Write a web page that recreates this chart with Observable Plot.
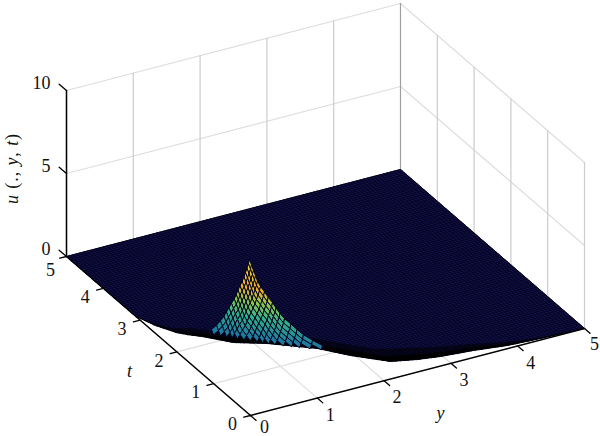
<!DOCTYPE html>
<html><head><meta charset="utf-8">
<style>html,body{margin:0;padding:0;background:#fff}svg{display:block}</style>
<script src="https://cdn.jsdelivr.net/npm/d3@7"></script>
<script src="https://cdn.jsdelivr.net/npm/@observablehq/plot@0.6"></script>
</head><body><div id="c"></div>
<script>
// Axis ticks
const yTicks=[0,1,2,3,4,5], tTicks=[0,1,2,3,4,5], zTicks=[0,5,10];
// Front edge of the dark sheet (y, t)
const edgeY=[0,.105,.252,.36,.49,.776,1.154,1.663,1.949,2.33,2.667,2.971,3.431,3.889,4.362,5];
const edgeT=[3.12,2.77,2.47,2.34,2.22,1.87,1.633,1.198,.82,.424,.302,.23,.167,.074,.035,0];
const bandT=[3.12,2.80,2.53,2.42,2.33,2.02,1.80,1.38,1.02,.60,.45,.35,.25,.12,.05,0];
const haloT=[3.12,2.85,2.62,2.55,2.48,2.20,2.00,1.60,1.24,.82,.66,.52,.36,.18,.07,0];
// Sheet mesh lines
const meshY=d3.range(0,5.0001,.05), meshT=d3.range(0,5.0001,.05);
// Peak: edges from the apex down to the base
const leftY=[.739,.725,.704,.684,.664,.639,.612,.586,.563,.537,.502,.470,.438,.407,.363,.314,.254];
const leftT=[1.369,1.370,1.374,1.378,1.382,1.388,1.396,1.403,1.409,1.416,1.428,1.438,1.449,1.459,1.476,1.495,1.521];
const rightY=[.739,.746,.752,.759,.766,.784,.814,.840,.873,.897,.927,.963,1.020,1.074,1.132,1.220,1.318];
const rightT=[1.369,1.327,1.285,1.242,1.200,1.152,1.097,1.044,.987,.936,.881,.823,.753,.685,.615,.528,.436];
const peakZ=[6,5.75,5.5,5.25,5,4.75,4.5,4.25,4,3.75,3.5,3.25,3,2.75,2.5,2.25,2];
const colorLevels=[1.2,2,3,3.8,4.5,5.1,6];
const colorStops=["#14205e","#1f7a9f","#2fb08c","#8cc84e","#eeae30","#f6c42c","#e8e840"];

// View of the 3D box on the page
const X=d=>250+66.8*d.y-36.8*d.t, Y=d=>415-17.4*d.y-31.8*d.t-16.6*(d.z||0);
const P=(y,t,z=0,id=0)=>({y,t,z,id});
const seg=(a,b,id)=>[a,b].map(q=>({y:q[0],t:q[1],z:q[2]||0,id}));

// Grid on floor and walls
const majorV=[],minorH=[];let gid=0;
for(const y of yTicks){majorV.push(...seg([y,5,0],[y,5,10],gid++));minorH.push(...seg([y,0,0],[y,5,0],gid++));}
for(const t of tTicks){majorV.push(...seg([5,t,0],[5,t,10],gid++));minorH.push(...seg([0,t,0],[5,t,0],gid++));}
for(const z of [5,10]){minorH.push(...seg([0,5,z],[5,5,z],gid++));minorH.push(...seg([5,5,z],[5,0,z],gid++));}

// Sheet
const frontT=d3.scaleLinear(edgeY,edgeT), frontY=d3.scaleLinear(edgeT.slice().reverse(),edgeY.slice().reverse()).clamp(true);
const sheet=[...edgeY.map((y,i)=>P(y,edgeT[i])),P(5,5),P(0,5),P(0,edgeT[0])];
const strip=arr=>[...edgeY.map((y,i)=>P(y,edgeT[i])),...edgeY.map((y,i)=>P(y,arr[i])).reverse()];
const mesh=[];let mid=0;
for(const y of meshY){mesh.push(P(y,frontT(y),0,mid),P(y,5,0,mid));mid++;}
for(const t of meshT){mesh.push(P(frontY(t),t,0,mid),P(5,t,0,mid));mid++;}

// Peak cells
const N=peakZ.length-1;
const node=(i,j)=>({y:leftY[i]+rightY[j]-leftY[0],t:leftT[i]+rightT[j]-leftT[0],z:peakZ[i]+peakZ[j]-peakZ[0]});
const cells=[];let cid=0;
for(let s=0;s<N;s++)for(let i=0;i<=s;i++){
  const j=s-i;
  const q=[node(i,j),node(i+1,j),node(i+1,j+1),node(i,j+1),node(i,j)];
  const v=d3.mean(q.slice(0,4),d=>d.z);
  q.forEach(d=>cells.push({...d,id:cid,v}));cid++;
}

// Axes and ticks
const axisLines=[...seg([0,5,0],[0,5,10],0),...seg([0,0,0],[0,5,0],1),...seg([0,0,0],[5,0,0],2)];
let aid=3;const tickLines=[];
for(const z of zTicks)tickLines.push(...seg([0,5,z],[0,5.2,z],aid++));
for(const t of tTicks)tickLines.push(...seg([0,t,0],[-.1,t,0],aid++));
for(const y of yTicks)tickLines.push(...seg([y,0,0],[y,-.15,0],aid++));

const font="'Liberation Serif',serif";
const txt={x:X,y:Y,fontSize:18,fontFamily:font,fill:"#111"};
const plot=Plot.plot({width:600,height:436,margin:0,
  x:{domain:[0,600],range:[0,600],axis:null},
  y:{domain:[0,436],range:[0,436],axis:null},
  color:{type:"linear",domain:colorLevels,range:colorStops},
  marks:[
   Plot.line(minorH,{x:X,y:Y,z:"id",stroke:"#dedede",strokeWidth:1.2}),
   Plot.line(majorV,{x:X,y:Y,z:"id",stroke:"#cccccc",strokeWidth:1.2}),
   Plot.line(seg([5,5,0],[5,5,10],0),{x:X,y:Y,stroke:"#a0a0a0",strokeWidth:1}),
   Plot.line(sheet,{x:X,y:Y,fill:"#14124e",stroke:"#05051f",strokeWidth:1}),
   Plot.line(mesh,{x:X,y:Y,z:"id",stroke:"#02021a",strokeWidth:.8}),
   Plot.line(strip(haloT),{x:X,y:Y,fill:"#000",fillOpacity:.55,stroke:"none"}),
   Plot.line(strip(bandT),{x:X,y:Y,fill:"#000",stroke:"none"}),
   Plot.line(cells,{x:X,y:Y,z:"id",fill:"v",stroke:"#02021a",strokeWidth:1}),
   Plot.line(axisLines,{x:X,y:Y,z:"id",stroke:"#000",strokeWidth:1.5}),
   Plot.line(tickLines,{x:X,y:Y,z:"id",stroke:"#000",strokeWidth:1.3}),
   Plot.text(zTicks.map(z=>P(0,5,z)),{...txt,text:d=>String(d.z),textAnchor:"end",dx:-16,dy:-7}),
   Plot.text(tTicks.filter(t=>t<5).map(t=>P(0,t)),{...txt,text:d=>String(d.t),dx:-18,dy:9}),
   Plot.text(tTicks.filter(t=>t==5).map(t=>P(0,t)),{...txt,text:d=>String(d.t),dx:-16,dy:14}),
   Plot.text(yTicks.filter(y=>y>0&&y<5).map(y=>P(y,0)),{...txt,text:d=>String(d.y),dx:13,dy:17}),
   Plot.text(yTicks.filter(y=>y==0).map(y=>P(y,0)),{...txt,text:d=>String(d.y),dx:14,dy:12}),
   Plot.text(yTicks.filter(y=>y==5).map(y=>P(y,0)),{...txt,text:d=>String(d.y),dx:10,dy:16}),
   Plot.text([P(2.5,0)],{...txt,text:()=>"y",dx:23,dy:41,fontStyle:"italic"}),
   Plot.text([P(0,2.5)],{...txt,text:()=>"t",dx:-29,dy:35,fontStyle:"italic"}),
   Plot.text([P(0,5,5)],{...txt,text:()=>"u (., y, t)",rotate:-90,dx:-54,dy:-5})
  ]});
document.getElementById("c").append(plot);
// italic letters inside the z-axis label
d3.select(plot).selectAll("text").filter(function(){return this.textContent==="u (., y, t)"}).each(function(){
  const el=d3.select(this);el.text(null).style("letter-spacing","0.9px");
  for(const [s,it] of [["u",1],[" (., ",0],["y",1],[", ",0],["t",1],[")",0]])
    el.append("tspan").attr("font-style",it?"italic":"normal").style("white-space","pre").text(s);
});
</script></body></html>
